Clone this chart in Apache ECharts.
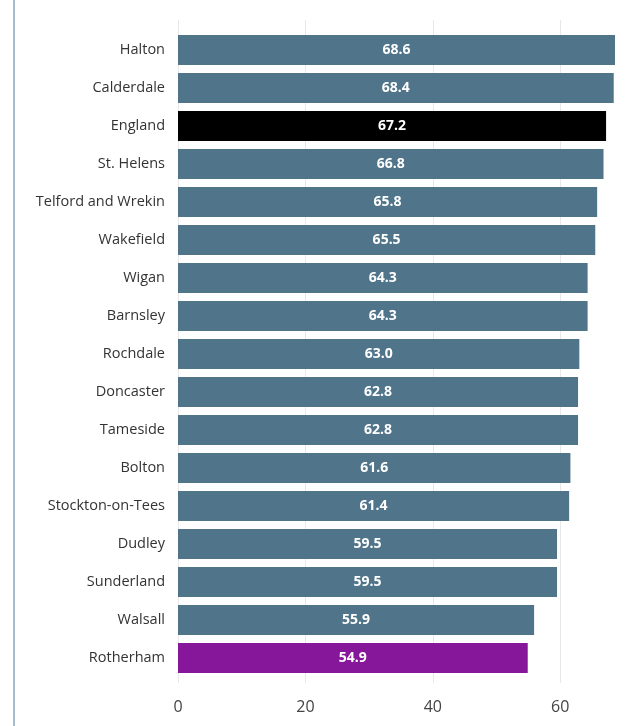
<!DOCTYPE html>
<html><head><meta charset="utf-8">
<script src="https://cdn.jsdelivr.net/npm/echarts@6/dist/echarts.min.js"></script>
<style>html,body{margin:0;padding:0;background:#fff}#c{width:635px;height:726px;position:relative}
#bar{position:absolute;left:13px;top:0;width:2px;height:726px;background:#a9bccc}</style>
</head><body><div id="c"></div><div id="bar"></div>
<script>
const categories = ["Halton","Calderdale","England","St. Helens","Telford and Wrekin","Wakefield","Wigan","Barnsley","Rochdale","Doncaster","Tameside","Bolton","Stockton-on-Tees","Dudley","Sunderland","Walsall","Rotherham"];
const values = [68.6,68.4,67.2,66.8,65.8,65.5,64.3,64.3,63.0,62.8,62.8,61.6,61.4,59.5,59.5,55.9,54.9];
const xTicks = [0,20,40,60];
const highlight = {"England":"#000000","Rotherham":"#86179b"};
const baseColor = "#50758a";

const chart = echarts.init(document.getElementById('c'), null, {renderer:'canvas'});
const font = "'Open Sans', 'Noto Sans', sans-serif";
chart.setOption({
  animation:false,
  grid:[
    {left:178,right:20,top:31,bottom:49},
    {left:178,right:20,top:20,bottom:43}
  ],
  xAxis:[
    {type:'value',gridIndex:0,min:0,max:68.6,interval:20,
     axisLine:{show:false},axisTick:{show:false},splitLine:{show:false},
     axisLabel:{color:'#444',fontSize:16,fontFamily:font,margin:22,
       formatter:v=>xTicks.includes(v)?String(v):''}},
    {type:'value',gridIndex:1,min:0,max:68.6,interval:20,
     axisLine:{show:false},axisTick:{show:false},axisLabel:{show:false},
     splitLine:{show:true,showMaxLine:false,lineStyle:{color:'#e8e8e8',width:1}}}
  ],
  yAxis:[
    {type:'category',gridIndex:0,data:categories,inverse:true,
     axisLine:{show:false},axisTick:{show:false},
     axisLabel:{color:'#333',fontSize:14.5,fontFamily:font,margin:13}},
    {type:'value',gridIndex:1,show:false}
  ],
  series:[{
    type:'bar',xAxisIndex:0,yAxisIndex:0,barWidth:30,z:3,
    data:values.map((v,i)=>({value:v,itemStyle:{color:highlight[categories[i]]||baseColor}})),
    label:{show:true,position:'inside',color:'#fff',fontWeight:'bold',fontSize:14,fontFamily:font,
      formatter:p=>p.value.toFixed(1)}
  }]
});
</script></body></html>
